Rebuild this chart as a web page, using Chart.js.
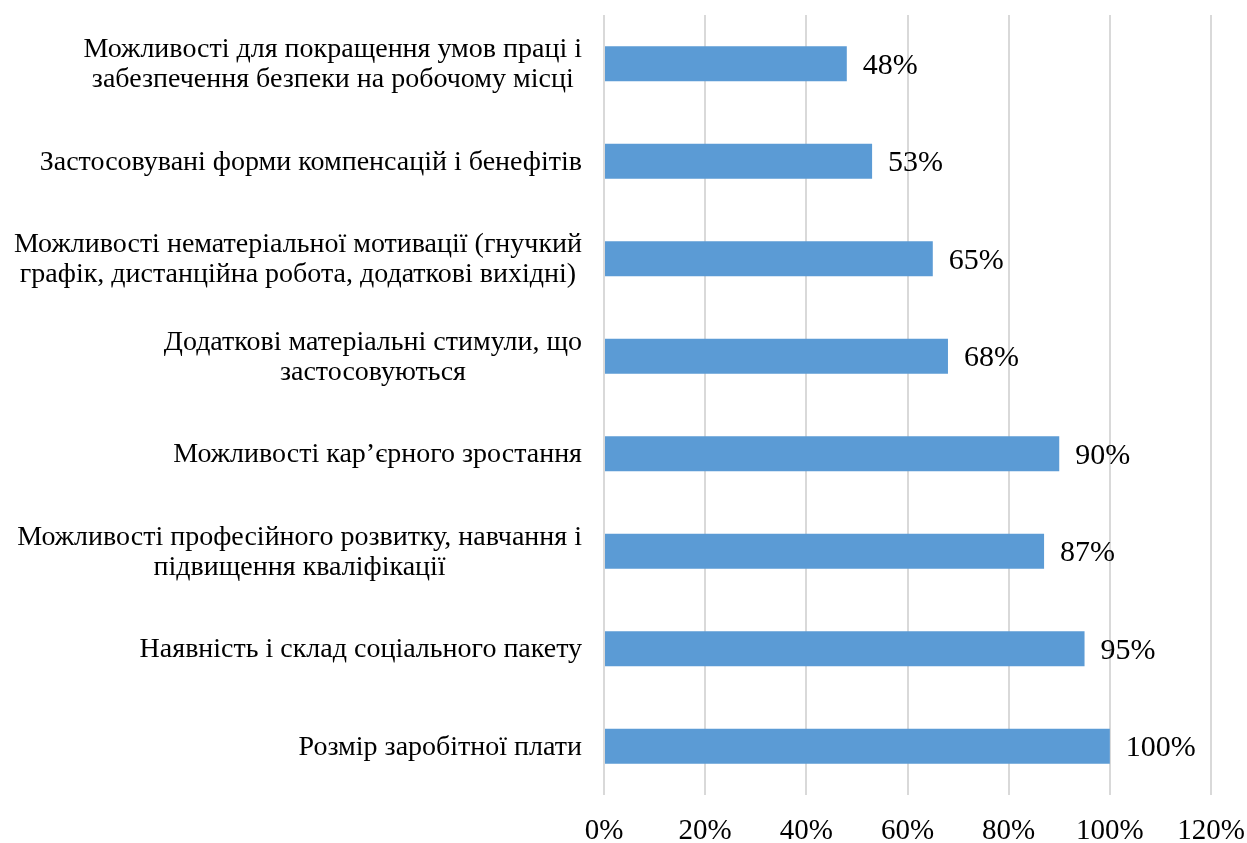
<!DOCTYPE html>
<html>
<head>
<meta charset="utf-8">
<title>Мотиваційні чинники</title>
<script src="https://cdn.jsdelivr.net/npm/chart.js@4.4.1/dist/chart.umd.min.js"></script>
<style>
  html, body { margin: 0; padding: 0; background: #fff; }
  #wrap { width: 1247px; height: 843px; }
</style>
</head>
<body>
<div id="wrap"><canvas id="chart"></canvas></div>
<script>
// Categories (top to bottom), each entry is an array of label lines
const categories = [
    ["Можливості для покращення умов праці і", "забезпечення безпеки на робочому місці"],
    ["Застосовувані форми компенсацій і бенефітів"],
    ["Можливості нематеріальної мотивації (гнучкий", "графік, дистанційна робота, додаткові вихідні)"],
    ["Додаткові матеріальні стимули, що", "застосовуються"],
    ["Можливості кар’єрного зростання"],
    ["Можливості професійного розвитку, навчання і", "підвищення кваліфікації"],
    ["Наявність і склад соціального пакету"],
    ["Розмір заробітної плати"]
];
const shares = [48, 53, 65, 68, 90, 87, 95, 100];
const xTicks = [0, 20, 40, 60, 80, 100, 120];

const SERIF = "'Liberation Serif', 'Times New Roman', serif";

// Category labels: block right-aligned to the axis, lines centred inside the block
const categoryLabels = {
    id: "categoryLabels",
    afterDraw(chart) {
        const ctx = chart.ctx;
        const y = chart.scales.y;
        const right = y.right - 22;
        const lineH = 30;
        ctx.save();
        ctx.font = "28px " + SERIF;
        ctx.fillStyle = "#000";
        ctx.textAlign = "center";
        ctx.textBaseline = "middle";
        categories.forEach((lines, i) => {
            const cy = y.getPixelForTick(i) + 1;
            const w = Math.max(...lines.map(l => ctx.measureText(l).width));
            const cx = right - w / 2;
            const top = cy - (lines.length - 1) * lineH / 2;
            lines.forEach((l, k) => ctx.fillText(l, cx, top + k * lineH));
        });
        ctx.restore();
    }
};

// Value labels at the end of each bar
const valueLabels = {
    id: "valueLabels",
    afterDatasetsDraw(chart) {
        const ctx = chart.ctx;
        const meta = chart.getDatasetMeta(0);
        ctx.save();
        ctx.font = "30px " + SERIF;
        ctx.fillStyle = "#000";
        ctx.textAlign = "left";
        ctx.textBaseline = "middle";
        meta.data.forEach((bar, i) => {
            ctx.fillText(shares[i] + "%", bar.x + 16, bar.y + 2);
        });
        ctx.restore();
    }
};

new Chart(document.getElementById("chart"), {
    type: "bar",
    data: {
        labels: categories.map(c => c.join(" ")),
        datasets: [{
            data: shares,
            backgroundColor: "#5B9BD5",
            borderWidth: 0,
            categoryPercentage: 1,
            barPercentage: 0.36
        }]
    },
    options: {
        indexAxis: "y",
        responsive: true,
        maintainAspectRatio: false,
        animation: false,
        layout: { padding: { top: 15, right: 36, bottom: 0, left: 0 } },
        plugins: {
            legend: { display: false },
            tooltip: { enabled: false }
        },
        scales: {
            x: {
                min: 0,
                max: 120,
                afterBuildTicks: s => { s.ticks = xTicks.map(v => ({ value: v })); },
                afterFit: s => {
                    s.height = 48;
                    // the last tick label may hang over the right edge of the plot
                    s.paddingLeft = 0;
                    s.paddingRight = 0;
                },
                border: { display: false },
                grid: { color: "#d9d9d9", lineWidth: 2, drawTicks: false },
                ticks: {
                    padding: 19,
                    color: "#000",
                    font: { family: SERIF, size: 29 },
                    callback: v => v + "%"
                }
            },
            y: {
                afterFit: s => { s.width = 604; },
                border: { display: false },
                grid: { display: false },
                ticks: { display: false }
            }
        }
    },
    plugins: [categoryLabels, valueLabels]
});
</script>
</body>
</html>
